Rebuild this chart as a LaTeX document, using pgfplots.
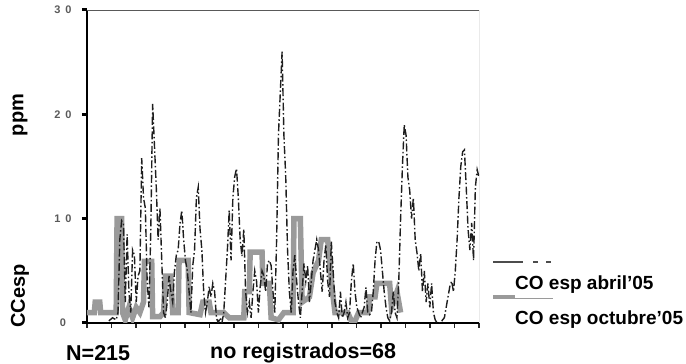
\documentclass[border=0pt]{standalone}
\usepackage{fontspec}
\setmainfont{Liberation Sans}
\usepackage{pgfplots}
\pgfplotsset{compat=1.18}
\definecolor{octgray}{HTML}{9A9A9A}
\definecolor{abrdark}{HTML}{1E1E1E}
\definecolor{ticklab}{HTML}{5A5A5A}
\begin{document}
\begin{tikzpicture}[x=1pt,y=1pt]
\path[use as bounding box] (-87,-41) rectangle (599,323);
\begin{axis}[at={(0,0)}, anchor=south west, scale only axis,
 width=392pt, height=313pt,
 xmin=0, xmax=215, ymin=0, ymax=30,
 axis x line*=bottom, axis y line*=left,
 x axis line style={line width=1.3pt, black, -},
 y axis line style={line width=2.2pt, black, -},
 tick align=outside, major tick length=5pt,
 ytick={0,10,20,30},
 yticklabels={0,{1\hspace{5pt}0},{2\hspace{5pt}0},{3\hspace{5pt}0}},
 yticklabel style={anchor=center, xshift=-19pt, font=\fontsize{11}{13}\selectfont\bfseries, text=ticklab},
 ytick style={line width=3pt, black},
 xtick={0,13.4375,...,216},
 xticklabels={},
 xtick style={line width=1.5pt, black!85},
 clip=true,
]
% CO esp octubre'05
\addplot[octgray, line width=5.5pt, line join=miter] coordinates {
(0,1)(4,1)(4.5,2)(7,2)(7.5,1)(16,1)(16.5,10)(19,10)(19.5,1)(21,0.3)(23,1.5)(25,0.5)(27,1.5)(29,1)(31,2)(31.5,5.9)(35.5,5.9)(36,0.6)(40,0.6)(42,1)(43,4.5)(46,4.5)(47,1)(50,1)(50.5,6)(55.5,6)(56,1)(62,0.8)(63.5,2)(67,2)(68,1)(75,1)(78,0.5)(86,0.5)(86.5,3)(89,3)(89.5,6.8)(96,6.8)(96.5,3.8)(100,3.8)(101,0.5)(105,0.3)(108,1)(113,1)(113.5,10)(117,10)(118,2)(122,2.5)(124,4.8)(127,6)(128.5,8)(132,8)(134,4)(136,1)(143,1)(145,0.2)(147,0.2)(149,1)(154,1)(155,2.5)(158,2.5)(159,3.8)(166,3.8)(167,1.5)(170,3)(172,1)
};
% CO esp abril'05
\addplot[abrdark, line width=1.4pt, dash pattern=on 8pt off 2.5pt on 1.5pt off 2.5pt] coordinates {
(12,0.2)(14,0.5)(16,0.3)(17,1)(18,8)(19,9.8)(20,9.5)(21,2)(22,8.5)(23,3)(24,1)(25,7)(26,6.5)(27,2)(28,4.5)(29,5)(30,15.8)(31,12)(32,11)(33,4)(34,1.5)(35,9)(36,21)(37,17)(38,13)(39,8)(40,11)(41,6)(42,1)(43,0.5)(44,2)(45,4.5)(46,3)(47,2)(48,5)(49,6.5)(50,7)(51,9.5)(52,10.8)(53,8)(54,6)(55,5)(56,3)(57,1)(58,5.5)(59,7)(60,12)(61,13)(62,9)(63,7)(64,3)(65,1)(66,2)(67,3.5)(68,2.5)(69,3.8)(70,3)(71,0.5)(72,0)(73,0.5)(74,0)(75,1)(76,4)(77,7)(78,10.8)(79,6)(80,12)(81,14)(82,14.8)(83,12)(84,8)(85,6.4)(86,9)(87,3)(88,1)(89,2)(90,0.5)(91,3)(92,5)(93,4)(94,1)(95,3.5)(96,5)(97,4.5)(98,3)(99,5.7)(100,6)(101,5.5)(102,3)(103,1)(104,8)(105,18)(106,22)(107,26)(108,18)(109,14)(110,7)(111,3)(112,1)(113,5)(114,6.5)(115,4)(116,2)(117,0.5)(118,3)(119,5.7)(120,4)(121,5.5)(122,2)(123,4)(124,6)(125,7)(126,8)(127,7)(128,5)(129,3)(130,6)(131,7.5)(132,4)(133,2.5)(134,7.8)(135,5)(136,2)(137,1)(138,0.5)(139,3)(140,0.5)(141,1)(142,2)(143,0.5)(144,1)(145,4)(146,5.7)(147,3)(148,1.5)(149,1)(150,0.5)(151,1)(152,1.5)(153,3.4)(154,1)(155,0.8)(156,1)(157,3)(158,6)(159,7.8)(160,7.8)(161,7)(162,5)(163,3)(164,1.5)(165,0.5)(166,0.2)(167,1)(168,3)(169,1)(170,0.5)(171,4)(172,10)(173,15)(174,19)(175,18)(176,14)(177,12.7)(178,10)(179,12)(180,8)(181,6.7)(182,5)(183,6.7)(184,3)(185,5)(186,2)(187,3.8)(188,1.5)(189,3.8)(190,1)(191,0.3)(192,0)(193,0)(194,0)(195,0.3)(196,0.5)(197,1.5)(198,2.5)(199,3.5)(200,4)(201,3)(202,5)(203,8)(204,12)(205,15)(206,16.4)(207,16.6)(208,13)(209,9)(210,7)(211,9.6)(212,6)(213,13)(214,14.7)(215,14)
};
\draw[black!65, line width=0.8pt] (rel axis cs:0,1) -- (rel axis cs:1,1) -- (rel axis cs:1,0);
\end{axis}
% axis labels
\node[rotate=90, font=\fontsize{20}{24}\selectfont\bfseries] at (-67,208) {ppm};
\node[rotate=90, font=\fontsize{20}{24}\selectfont\bfseries] at (-67,27) {CCesp};
% bottom notes
\node[anchor=west, font=\fontsize{21.5}{25}\selectfont\bfseries, inner sep=0pt] at (-21,-30) {N=215};
\node[anchor=west, font=\fontsize{21.5}{25}\selectfont\bfseries, inner sep=0pt] at (123,-30) {no registrados=68};
% legend
\draw[black!70, line width=1.2pt, dash pattern=on 30pt off 10pt on 5pt off 8pt on 5pt off 8pt] (406,61) -- (466,61);
\node[anchor=west, font=\fontsize{19}{23}\selectfont\bfseries, inner sep=0pt] at (428,38) {CO esp abril’05};
\draw[octgray, line width=4pt] (406,26) -- (428,26);
\draw[octgray, line width=1pt] (428,24.5) -- (466,24.5);
\node[anchor=west, font=\fontsize{19}{23}\selectfont\bfseries, inner sep=0pt] at (428,3) {CO esp octubre’05};
\end{tikzpicture}
\end{document}
